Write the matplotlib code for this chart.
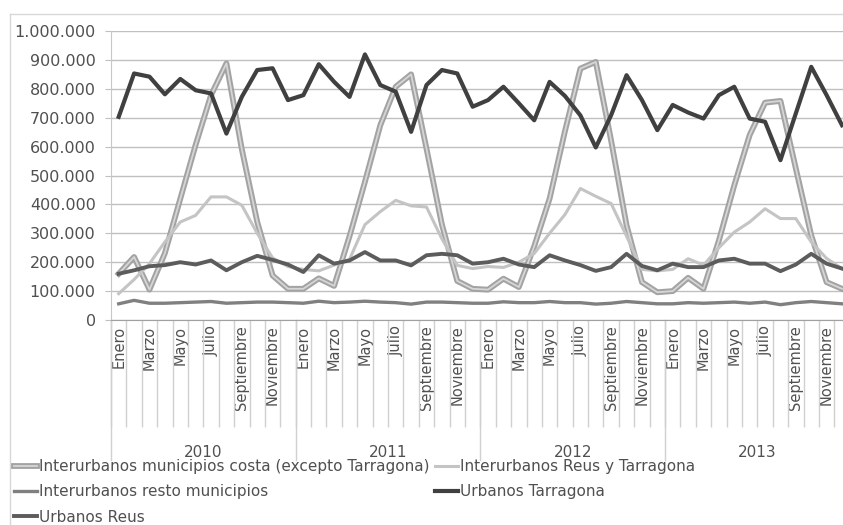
import numpy as np
import matplotlib
matplotlib.use("Agg")
import matplotlib.pyplot as plt
import matplotlib.patheffects as pe
import matplotlib.transforms as mtransforms
from matplotlib.lines import Line2D
from matplotlib.ticker import FuncFormatter

years = ["2010", "2011", "2012", "2013"]
month_labels = ["Enero", "", "Marzo", "", "Mayo", "", "Julio", "",
                "Septiembre", "", "Noviembre", ""]

# miles de viajeros, ene-2010 .. dic-2013
costa = [160, 218, 105, 231, 419, 606, 778, 888, 591, 340, 154, 108,
         108, 144, 118, 290, 478, 674, 807, 850, 593, 331, 135, 108,
         105, 143, 114, 255, 420, 654, 870, 893, 620, 328, 131, 96,
         100, 146, 108, 275, 466, 640, 752, 758, 524, 293, 131, 108]
reus_tarragona = [91, 140, 195, 270, 339, 362, 426, 426, 397, 300, 215, 185,
                  175, 170, 190, 210, 330, 375, 414, 395, 391, 281, 189, 178,
                  185, 182, 200, 230, 300, 365, 455, 428, 403, 290, 175, 170,
                  175, 212, 190, 250, 304, 339, 385, 351, 351, 270, 213, 178]
resto = [56, 68, 58, 58, 60, 62, 64, 58, 60, 62, 62, 60,
         58, 65, 60, 62, 65, 62, 60, 55, 62, 62, 60, 58,
         58, 63, 60, 60, 64, 60, 60, 55, 58, 64, 60, 56,
         56, 60, 58, 60, 62, 58, 62, 53, 60, 64, 60, 56]
urb_tarragona = [703, 853, 842, 781, 834, 795, 784, 645, 772, 865, 871, 761,
                 778, 885, 824, 772, 919, 813, 790, 651, 813, 865, 853, 738,
                 761, 807, 750, 691, 824, 775, 708, 597, 709, 847, 761, 657,
                 744, 718, 697, 778, 807, 697, 686, 553, 715, 876, 778, 674]
urb_reus = [160, 172, 186, 190, 200, 192, 206, 172, 200, 222, 208, 192,
            166, 224, 195, 206, 235, 206, 206, 189, 224, 229, 224, 195,
            200, 212, 192, 183, 224, 206, 190, 170, 183, 229, 187, 172,
            195, 183, 183, 206, 212, 195, 195, 169, 192, 229, 195, 178]

plt.rcParams["font.family"] = ["DejaVu Sans"]
txt = "#505050"

fig = plt.figure(figsize=(8.43, 5.25), dpi=100)
W, H = 843, 525
ax = fig.add_axes([111 / W, 1 - 320 / H, 738.7 / W, 289 / H])

x = np.arange(len(costa))
k = 1000

l_costa, = ax.plot(x, np.array(costa) * k, color="#d6d6d6", lw=1.3,
                   label="Interurbanos municipios costa (excepto Tarragona)",
                   path_effects=[pe.Stroke(linewidth=4.2, foreground="#a3a3a3"), pe.Normal()])
l_rt, = ax.plot(x, np.array(reus_tarragona) * k, color="#c4c4c4", lw=2.2,
                label="Interurbanos Reus y Tarragona")
l_resto, = ax.plot(x, np.array(resto) * k, color="#808080", lw=2.4,
                   label="Interurbanos resto municipios")
l_ut, = ax.plot(x, np.array(urb_tarragona) * k, color="#404040", lw=3.0,
                label="Urbanos Tarragona")
l_ur, = ax.plot(x, np.array(urb_reus) * k, color="#5c5c5c", lw=2.8,
                label="Urbanos Reus")

ax.set_xlim(-0.5, len(costa) - 0.5)
ax.set_ylim(0, 1_000_000)
ax.set_yticks(np.arange(0, 1_000_001, 100_000))
ax.yaxis.set_major_formatter(FuncFormatter(lambda v, p: f"{v:,.0f}".replace(",", ".")))
ax.grid(axis="y", color="#c0c0c0", lw=1.0)
ax.set_axisbelow(True)

ax.set_xticks(x)
ax.set_xticklabels(month_labels * len(years), rotation=90)
ax.set_xticks(np.arange(-0.5, len(costa), 1), minor=True)
ax.tick_params(axis="x", which="major", length=0, pad=4, labelsize=10.5, labelcolor=txt)
ax.tick_params(axis="x", which="minor", length=77, width=1.0, color="#d0d0d0")
ax.tick_params(axis="y", length=4, color="#c0c0c0", labelsize=11.5, labelcolor=txt, pad=7)

for s in ["top", "right"]:
    ax.spines[s].set_visible(False)
ax.spines["left"].set_color("#c8c8c8")
ax.spines["bottom"].set_color("#a0a0a0")

# separadores de año y etiquetas
trans = mtransforms.blended_transform_factory(ax.transData, ax.transAxes)
for i in range(len(years) + 1):
    b = 12 * i - 0.5
    ax.plot([b, b], [0, -0.484], transform=trans, clip_on=False, color="#d0d0d0", lw=1.0)
for i, yr in enumerate(years):
    ax.text(12 * i + 5.5, -0.457, yr, transform=trans, ha="center", va="center",
            fontsize=11, color=txt)

# borde del gráfico
fig.add_artist(Line2D([10 / W, 10 / W], [0, 1 - 14 / H], color="#d8d8d8", lw=1.0))
fig.add_artist(Line2D([10 / W, 1], [1 - 14 / H, 1 - 14 / H], color="#d8d8d8", lw=1.0))

handles = [l_costa, l_resto, l_ur, l_rt, l_ut]
fig.legend(handles=handles, labels=[h.get_label() for h in handles], ncol=2,
           loc="upper left", bbox_to_anchor=(14 / W, 1 - 459 / H), frameon=False,
           fontsize=11, labelcolor=txt, handlelength=1.5, handletextpad=0.15,
           columnspacing=0.35, labelspacing=0.68, borderpad=0, borderaxespad=0)

fig.savefig("out.png", dpi=100)
